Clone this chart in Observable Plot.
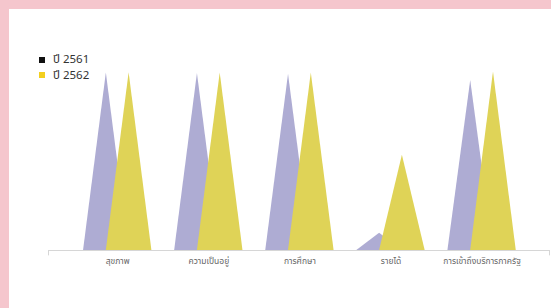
<!DOCTYPE html>
<html>
<head>
<meta charset="utf-8">
<script src="https://cdn.jsdelivr.net/npm/d3@7"></script>
<script src="https://cdn.jsdelivr.net/npm/@observablehq/plot@0.6"></script>
<style>
  html, body { margin: 0; padding: 0; }
  body { width: 551px; height: 308px; background: #f5c6cd; position: relative; overflow: hidden;
         font-family: "Noto Sans Thai", "Noto Sans", "DejaVu Sans", sans-serif; }
  #panel { position: absolute; left: 9px; top: 9px; width: 542px; height: 299px; background: #fff; }
  #chart { position: absolute; left: 0; top: 0; }
  #legend { position: absolute; left: 39px; top: 52px; font-size: 11.5px; color: #333; line-height: 15.5px; }
  #legend .row { display: flex; align-items: center; white-space: nowrap; }
  #legend .sw { width: 6px; height: 6px; margin-right: 8px; }
</style>
</head>
<body>
<div id="panel"></div>
<div id="chart"></div>
<div id="legend"></div>
<script>
const categories = ["สุขภาพ", "ความเป็นอยู่", "การศึกษา", "รายได้", "การเข้าถึงบริการภาครัฐ"];
const seriesNames = ["ปี 2561", "ปี 2562"];
const values2561 = [99.5, 99.2, 98.8, 9.7, 95.2];
const values2562 = [99.6, 99.5, 99.4, 53.4, 100];
const seriesColors = ["#aeacd3", "#dfd357"];
const legendColors = ["#111111", "#f3cf1f"];

// triangle geometry in category units
const offsets = [-0.125, 0.125];
const halfWidth = 0.25;

function triangles(vals, s) {
  const pts = [];
  vals.forEach((v, i) => {
    const c = i + offsets[s];
    pts.push({key: s + "-" + i, x: c - halfWidth, y: 0});
    pts.push({key: s + "-" + i, x: c, y: v});
    pts.push({key: s + "-" + i, x: c + halfWidth, y: 0});
  });
  return pts;
}

const xDomain = [-0.76, 4.74];

const chart = Plot.plot({
  width: 551,
  height: 308,
  marginLeft: 48,
  marginRight: 2,
  marginTop: 71.5,
  marginBottom: 58,
  style: {background: "transparent", fontFamily: "'Noto Sans Thai', 'Noto Sans', sans-serif"},
  x: {type: "linear", domain: xDomain, axis: null, label: null},
  y: {domain: [0, 100], axis: null, label: null},
  marks: [
    Plot.areaY(triangles(values2561, 0), {x: "x", y: "y", z: "key", fill: seriesColors[0], curve: "linear"}),
    Plot.areaY(triangles(values2562, 1), {x: "x", y: "y", z: "key", fill: seriesColors[1], curve: "linear"}),
    Plot.ruleY([0], {stroke: "#d6d6d6", strokeWidth: 1}),
    Plot.ruleX(xDomain, {y1: 0, y2: -3, stroke: "#d6d6d6", strokeWidth: 1}),
    Plot.axisX({
      ticks: categories.map((d, i) => i),
      tickFormat: i => categories[i],
      tickSize: 0,
      tickPadding: 7,
      fontSize: 8.5,
      fill: "#666",
      label: null
    })
  ]
});
document.getElementById("chart").appendChild(chart);

const legend = document.getElementById("legend");
seriesNames.forEach((name, s) => {
  const row = document.createElement("div");
  row.className = "row";
  const sw = document.createElement("span");
  sw.className = "sw";
  sw.style.background = legendColors[s];
  const t = document.createElement("span");
  t.textContent = name;
  row.appendChild(sw);
  row.appendChild(t);
  legend.appendChild(row);
});
</script>
</body>
</html>
